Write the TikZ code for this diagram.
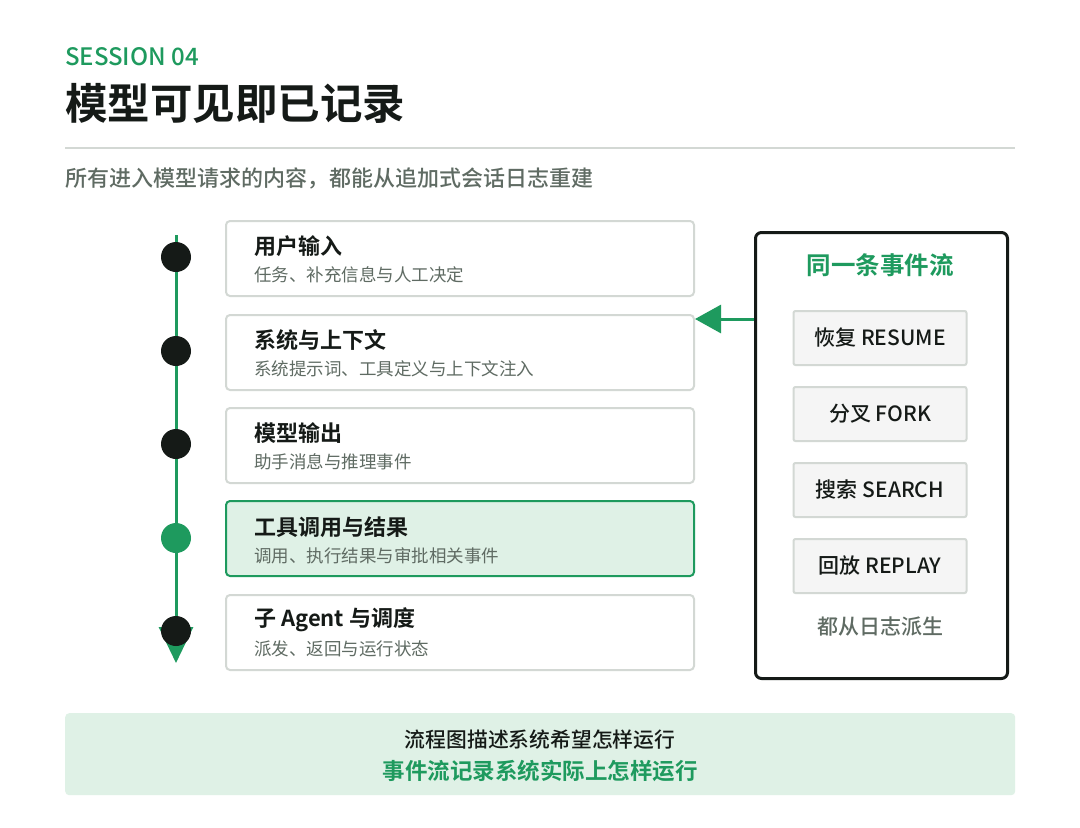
\documentclass[tikz,border=0pt]{standalone}
\usepackage{fontspec}
\setmainfont{Noto Sans CJK SC}
\newfontfamily\cjkb{Noto Sans CJK SC Bold}
\newfontfamily\cjkm{Noto Sans CJK SC Medium}
\usetikzlibrary{arrows.meta}
\definecolor{grn}{HTML}{1E9A5E}
\definecolor{lgrn}{HTML}{DFF1E6}
\definecolor{gtx}{HTML}{5F6B63}
\definecolor{bdr}{HTML}{D3D8D4}
\definecolor{dot}{HTML}{151A17}
\begin{document}
\begin{tikzpicture}[x=1pt,y=-1pt,
 card/.style={draw=bdr,line width=2pt,rounded corners=4pt,fill=white,minimum width=468pt,minimum height=75pt,anchor=north west},
 ttl/.style={anchor=west,font=\fontsize{22}{26}\selectfont\cjkb,text=dot,inner sep=0pt},
 sub/.style={anchor=west,font=\fontsize{17.5}{21}\selectfont,text=gtx,inner sep=0pt},
 dotn/.style={circle,fill=dot,minimum size=30pt,inner sep=0pt},
 btn/.style={draw=bdr,line width=2pt,fill=black!4,rounded corners=2pt,minimum width=173pt,minimum height=54pt,font=\fontsize{21}{24}\selectfont\cjkm,text=dot}]
\useasboundingbox[fill=white] (0,0) rectangle (1080,828);
\node[anchor=west,inner sep=0pt,text=grn,font=\fontsize{24}{28}\selectfont\cjkm] (ses) at (65,57) {SESSION 04};
\node[anchor=west,inner sep=0pt,text=dot,font=\fontsize{42.5}{48}\selectfont\cjkb] (tit) at (65,103) {模型可见即已记录};
\draw[bdr,line width=1.5pt] (65,148) -- (1015,148);
\node[anchor=west,inner sep=0pt,text=gtx,font=\fontsize{22}{26}\selectfont\cjkm] (st) at (65,178) {所有进入模型请求的内容，都能从追加式会话日志重建};
\coordinate (t0) at (176,235);
\coordinate (t1) at (176,663);
\draw[grn,line width=3pt,-{Triangle[length=36pt,width=34pt]}] (t0) -- (t1);
\node[card] (c1) at (225,220) {};
\node[card] (c2) at (225,314) {};
\node[card] (c3) at (225,407) {};
\node[card,draw=grn,fill=lgrn] (c4) at (225,500) {};
\node[card] (c5) at (225,594) {};
\node[ttl] at (254,246) {用户输入};
\node[sub] at (254,275) {任务、补充信息与人工决定};
\node[ttl] at (254,340) {系统与上下文};
\node[sub] at (254,369) {系统提示词、工具定义与上下文注入};
\node[ttl] at (254,433) {模型输出};
\node[sub] at (254,462) {助手消息与推理事件};
\node[ttl] at (254,527) {工具调用与结果};
\node[sub] at (254,556) {调用、执行结果与审批相关事件};
\node[ttl] at (254,620) {子 Agent 与调度};
\node[sub] at (254,649) {派发、返回与运行状态};
\node[dotn] (d1) at (176,257) {};
\node[dotn] (d2) at (176,351) {};
\node[dotn] (d3) at (176,444) {};
\node[dotn,fill=grn] (d4) at (176,538) {};
\node[dotn] (d5) at (176,631) {};
\node[draw=dot,line width=3pt,rounded corners=6pt,minimum width=252pt,minimum height=446pt,anchor=north west] (p) at (754,231) {};
\node[text=grn,font=\fontsize{24.5}{28}\selectfont\cjkb] (pt) at (880,265) {同一条事件流};
\node[btn] (b1) at (880,338) {恢复 RESUME};
\node[btn] (b2) at (880,414) {分叉 FORK};
\node[btn] (b3) at (880,490) {搜索 SEARCH};
\node[btn] (b4) at (880,566) {回放 REPLAY};
\node[text=gtx,font=\fontsize{21}{24}\selectfont\cjkm] (pf) at (880,627) {都从日志派生};
\draw[grn,line width=3pt,-{Triangle[length=26pt,width=28pt]}] (p.west |- 0,319) -- (c2.east |- 0,319);
\node[fill=lgrn,rounded corners=4pt,minimum width=950pt,minimum height=82pt,anchor=north west] (bb) at (65,713) {};
\node[font=\fontsize{20.8}{24}\selectfont\cjkm,text=dot] (bt1) at (540,740) {流程图描述系统希望怎样运行};
\node[font=\fontsize{22.5}{26}\selectfont\cjkb,text=grn] (bt2) at (540,771) {事件流记录系统实际上怎样运行};
\end{tikzpicture}
\end{document}
